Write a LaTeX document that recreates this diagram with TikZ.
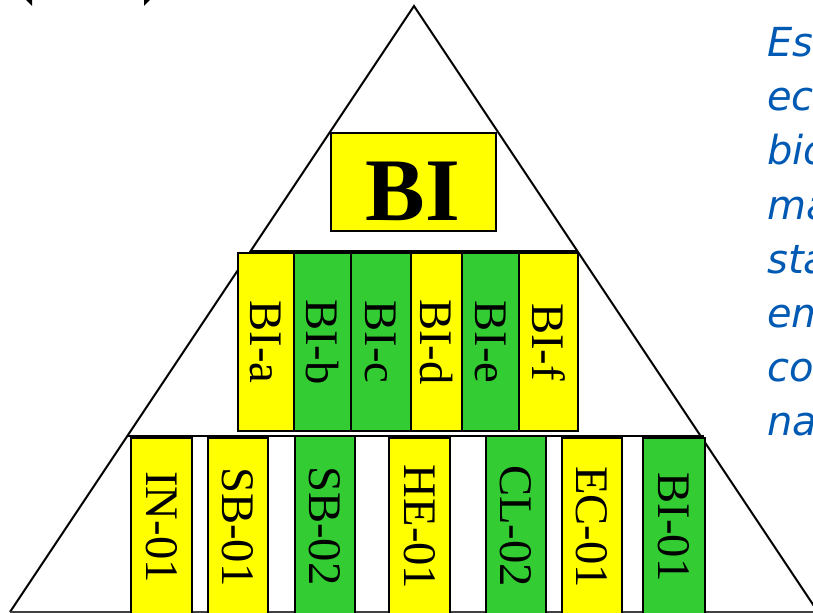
\documentclass[tikz,border=0pt]{standalone}
\usepackage{fontspec}
\setmainfont{Liberation Serif}
\newfontfamily\sidefont{DejaVu Sans}
\definecolor{yel}{RGB}{255,255,0}
\definecolor{grn}{RGB}{51,204,51}
\definecolor{sideblue}{RGB}{0,90,180}
\tikzset{
  tri/.style={draw=black, line width=1.5pt},
  boxst/.style={draw=black, line width=1.2pt, rectangle, inner sep=0pt, outer sep=0pt},
  lbl/.style={rotate=-90, inner sep=0pt, font=\fontsize{35}{35}\selectfont},
  side/.style={anchor=base west, inner sep=0pt, text=sideblue, font=\sidefont\itshape\fontsize{30}{30}\selectfont},
  tipmark/.style={fill=black, draw=none}
}
\newcommand{\labelbox}[7]{%
  \pgfmathsetmacro\bw{(#4-#2)*0.75}%
  \pgfmathsetmacro\bh{(#5-#3)*0.75}%
  \node[boxst, fill=#6, minimum width=\bw pt, minimum height=\bh pt] (#1) at ({(#2+#4)/2},{(#3+#5)/2}) {};%
  \node[lbl] (#1t) at (#1.center) {#7};%
}
\begin{document}
\begin{tikzpicture}[x=0.75pt,y=-0.75pt]
\useasboundingbox (0,0) rectangle (813,613);
\clip (0,0) rectangle (813,613);
\fill[white] (0,0) rectangle (813,613);
% clipped arrow tips at top left
\fill[tipmark] (25,-1) -- (32,-1) -- (32,6) -- cycle;
\fill[tipmark] (144,-1) -- (151,-1) -- (144,6) -- cycle;
% triangle
\coordinate (apex) at (414,6);
\coordinate (bl) at (10,612);
\coordinate (br) at (818,612);
\draw[tri, line join=miter] (bl) -- (apex) -- (br);
\draw[draw=black!75, line width=1.2pt] (bl) -- (br);
% horizontal lines
\coordinate (m1) at (251,251);
\coordinate (m2) at (577,251);
\coordinate (b1) at (128,436);
\coordinate (b2) at (704,436);
\draw[tri] (m1) -- (m2);
\draw[tri] (b1) -- (b2);
% top box
\node[boxst, fill=yel, minimum width={165*0.75pt}, minimum height={98*0.75pt}] (bi) at (413.5,182) {};
\node[anchor=base, inner sep=0pt, font=\fontsize{67}{67}\selectfont\bfseries] (bit) at (413,220) {BI};
% middle row
\labelbox{bia}{238}{253}{294}{431}{yel}{BI-a}
\labelbox{bib}{294}{253}{351}{431}{grn}{BI-b}
\labelbox{bic}{351}{253}{411}{431}{grn}{BI-c}
\labelbox{bid}{411}{253}{462}{431}{yel}{BI-d}
\labelbox{bie}{462}{253}{519}{431}{grn}{BI-e}
\labelbox{bif}{519}{253}{578}{431}{yel}{BI-f}
% bottom row
\labelbox{in01}{131}{438}{192}{616}{yel}{IN-01}
\labelbox{sb01}{208}{438}{268}{616}{yel}{SB-01}
\labelbox{sb02}{295}{436}{355}{616}{grn}{SB-02}
\labelbox{he01}{389}{438}{450}{616}{yel}{HE-01}
\labelbox{cl02}{486}{436}{546}{616}{grn}{CL-02}
\labelbox{ec01}{562}{438}{622}{616}{yel}{EC-01}
\labelbox{bi01}{643}{438}{705}{616}{grn}{BI-01}
% side text
\node[side] (s1) at (767,57) {Es};
\node[side] (s2) at (767,111) {ec};
\node[side] (s3) at (767,165) {bio};
\node[side] (s4) at (767,219) {ma};
\node[side] (s5) at (767,273) {sta};
\node[side] (s6) at (767,327) {em};
\node[side] (s7) at (767,381) {co};
\node[side] (s8) at (767,435) {na};
\end{tikzpicture}
\end{document}
